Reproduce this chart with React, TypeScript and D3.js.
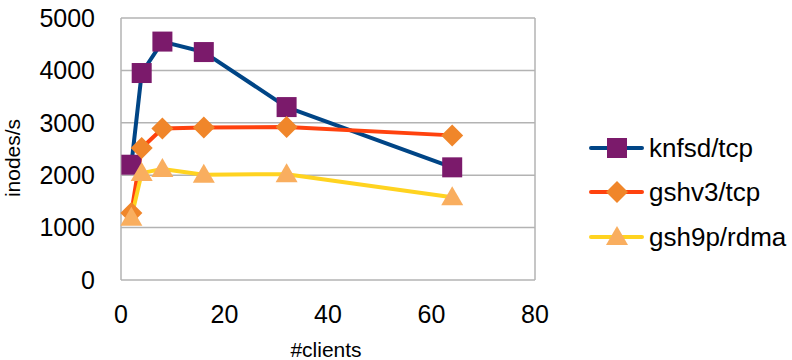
import React from "react";
import * as d3 from "d3";

const clients = [2, 4, 8, 16, 32, 64];
const knfsdTcp = [2200, 3950, 4550, 4350, 3300, 2150];
const gshv3Tcp = [1280, 2520, 2890, 2910, 2920, 2760];
const gsh9pRdma = [1190, 2040, 2120, 2010, 2020, 1580];
const seriesNames = ["knfsd/tcp", "gshv3/tcp", "gsh9p/rdma"];
const xTicks = [0, 20, 40, 60, 80];
const yTicks = [0, 1000, 2000, 3000, 4000, 5000];

const lineColors = ["#004586", "#ff420e", "#ffd320"];
const markerColors = ["#7b1a6b", "#f0862a", "#f9ae5f"];
const shapes = ["square", "diamond", "triangle"];

const W = 792, H = 360;
const L = 121, R = 535, T = 18, B = 280;
const FONT = "'Liberation Sans', Arial, sans-serif";

function Marker({ shape, x, y, color }: { shape: string; x: number; y: number; color: string }) {
  if (shape === "square") return <rect x={x - 10} y={y - 10} width={20} height={20} fill={color} />;
  if (shape === "diamond")
    return <path d={`M${x},${y - 11}L${x + 11},${y}L${x},${y + 11}L${x - 11},${y}Z`} fill={color} />;
  return <path d={`M${x},${y - 11}L${x + 11},${y + 8}L${x - 11},${y + 8}Z`} fill={color} />;
}

export default function App() {
  const x = d3.scaleLinear().domain([0, 80]).range([L, R]);
  const y = d3.scaleLinear().domain([0, 5000]).range([B, T]);
  const data = [knfsdTcp, gshv3Tcp, gsh9pRdma];
  const line = d3.line<number>().x((_, i) => x(clients[i])).y((d) => y(d));
  const legendY = [148, 192, 237];
  return (
    <svg width={W} height={H} style={{ position: "absolute", left: 0, top: 0, background: "#fff" }} fontFamily={FONT}>
      <rect x={0} y={0} width={W} height={H} fill="#fff" />
      {yTicks.map((t) => (
        <g key={t}>
          <line x1={L} x2={R} y1={y(t)} y2={y(t)} stroke="#b3b3b3" strokeWidth={1.5} />
          <text x={95} y={y(t)} dy="0.35em" textAnchor="end" fontSize={25} fill="#000">{t}</text>
        </g>
      ))}
      <line x1={L} x2={L} y1={T} y2={B} stroke="#b3b3b3" strokeWidth={1.5} />
      <line x1={R} x2={R} y1={T} y2={B} stroke="#b3b3b3" strokeWidth={1.5} />
      {xTicks.map((t) => (
        <text key={t} x={x(t)} y={314} dy="0.35em" textAnchor="middle" fontSize={25} fill="#000">{t}</text>
      ))}
      <text x={326} y={357} textAnchor="middle" fontSize={21} fill="#000">#clients</text>
      <text transform={`translate(13,158) rotate(-90)`} dy="0.35em" textAnchor="middle" fontSize={21} fill="#000">inodes/s</text>
      {data.map((s, k) => (
        <path key={k} d={line(s) || ""} fill="none" stroke={lineColors[k]} strokeWidth={4} strokeLinejoin="round" />
      ))}
      {data.map((s, k) =>
        s.map((v, i) => <Marker key={`${k}-${i}`} shape={shapes[k]} x={x(clients[i])} y={y(v)} color={markerColors[k]} />)
      )}
      {seriesNames.map((n, k) => (
        <g key={n}>
          <line x1={591} x2={642} y1={legendY[k]} y2={legendY[k]} stroke={lineColors[k]} strokeWidth={4} strokeLinecap="round" />
          <Marker shape={shapes[k]} x={617} y={legendY[k]} color={markerColors[k]} />
          <text x={649} y={legendY[k]} dy="0.35em" fontSize={26} fill="#000">{n}</text>
        </g>
      ))}
    </svg>
  );
}
